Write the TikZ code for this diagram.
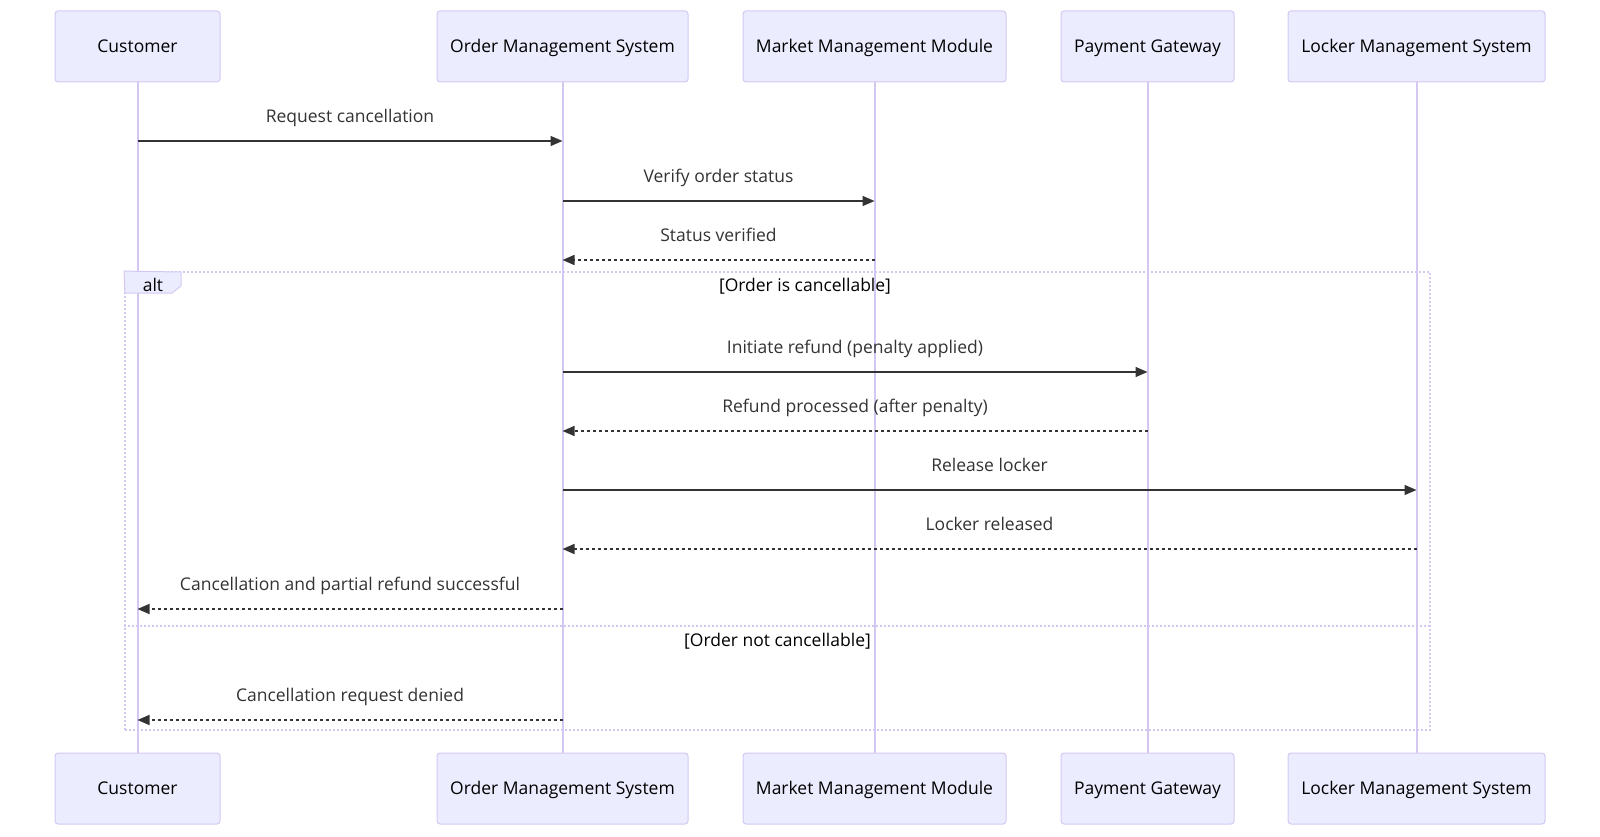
\documentclass[tikz,border=0pt]{standalone}
\usepackage{fontspec}
\setmainfont{Open Sans}
\usetikzlibrary{arrows.meta}
\definecolor{actfill}{HTML}{ECECFF}
\definecolor{actline}{HTML}{D4C8F2}
\definecolor{msgc}{HTML}{333333}
\begin{document}
\begin{tikzpicture}[x=1pt,y=-1pt,
  font=\fontsize{17.5}{21}\selectfont,
  actor/.style={draw=actline, fill=actfill, line width=1pt, rounded corners=3pt,
    minimum height=71pt, minimum width=#1, inner sep=0pt, text=black,
    text height=12.5pt, text depth=0pt},
  life/.style={draw=actline, line width=2pt},
  msg/.style={draw=msgc, line width=1.5pt, -{Triangle[length=12pt,width=10pt]}},
  reply/.style={msg, dash pattern=on 3pt off 3pt},
  lbl/.style={text=msgc, inner sep=0pt, text height=12.5pt, text depth=0pt, yshift=25pt},
  cond/.style={text=black, inner sep=0pt, text height=12.5pt, text depth=0pt},
  altframe/.style={draw=actline, line width=1.8pt, dash pattern=on 2pt off 2pt},
  alttab/.style={draw=actline, fill=actfill, line width=1pt},
]
\useasboundingbox (0,0) rectangle (1600,837);
% actors
\node[actor=165pt] (cT) at (137.5,46.5) {Customer};
\node[actor=251pt] (oT) at (562.5,46.5) {Order Management System};
\node[actor=263pt] (mT) at (874.5,46.5) {Market Management Module};
\node[actor=173pt] (pT) at (1147.5,46.5) {Payment Gateway};
\node[actor=257pt] (lT) at (1416.5,46.5) {Locker Management System};
\node[actor=165pt] (cB) at (137.5,788.5) {Customer};
\node[actor=251pt] (oB) at (562.5,788.5) {Order Management System};
\node[actor=263pt] (mB) at (874.5,788.5) {Market Management Module};
\node[actor=173pt] (pB) at (1147.5,788.5) {Payment Gateway};
\node[actor=257pt] (lB) at (1416.5,788.5) {Locker Management System};
% lifelines
\draw[life] (cT.south) -- (cB.north);
\draw[life] (oT.south) -- (oB.north);
\draw[life] (mT.south) -- (mB.north);
\draw[life] (pT.south) -- (pB.north);
\draw[life] (lT.south) -- (lB.north);
% alt frame
\node[altframe, minimum width=1305pt, minimum height=458pt, inner sep=0pt] (alt) at (777.5,501) {};
\coordinate (sep) at (0,626);
\draw[altframe] (alt.west |- sep) -- (alt.east |- sep);
\coordinate (t1) at (181,272);
\coordinate (t2) at (181,286);
\coordinate (t3) at (172,293);
\coordinate (t4) at (125,293);
\draw[alttab] (alt.north west) -- (t1) -- (t2) -- (t3) -- (t4) -- cycle;
\node[cond] (altlbl) at (153,285) {alt};
\node[cond] (c1) at (805,285) {[Order is cancellable]};
\node[cond] (c2) at (777.5,640) {[Order not cancellable]};
% message levels
\coordinate (y1) at (0,141);
\coordinate (y2) at (0,201);
\coordinate (y3) at (0,260);
\coordinate (y4) at (0,372);
\coordinate (y5) at (0,431);
\coordinate (y6) at (0,490);
\coordinate (y7) at (0,549);
\coordinate (y8) at (0,609);
\coordinate (y9) at (0,720);
\draw[msg] (cT |- y1) -- node[lbl] {Request cancellation} (oT |- y1);
\draw[msg] (oT |- y2) -- node[lbl] {Verify order status} (mT |- y2);
\draw[reply] (mT |- y3) -- node[lbl] {Status verified} (oT |- y3);
\draw[msg] (oT |- y4) -- node[lbl] {Initiate refund (penalty applied)} (pT |- y4);
\draw[reply] (pT |- y5) -- node[lbl] {Refund processed (after penalty)} (oT |- y5);
\draw[msg] (oT |- y6) -- node[lbl] {Release locker} (lT |- y6);
\draw[reply] (lT |- y7) -- node[lbl] {Locker released} (oT |- y7);
\draw[reply] (oT |- y8) -- node[lbl] {Cancellation and partial refund successful} (cT |- y8);
\draw[reply] (oT |- y9) -- node[lbl] {Cancellation request denied} (cT |- y9);
\end{tikzpicture}
\end{document}
